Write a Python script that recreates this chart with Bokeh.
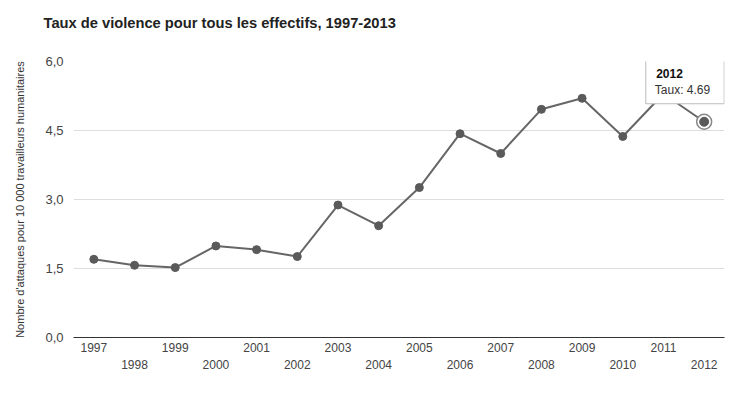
from bokeh.plotting import figure
from bokeh.models import (Range1d, FixedTicker, LinearAxis, CustomJSTickFormatter, Label, Grid)
from bokeh.embed import file_html
from bokeh.resources import INLINE

years = [1997, 1998, 1999, 2000, 2001, 2002, 2003, 2004, 2005, 2006, 2007, 2008, 2009, 2010, 2011, 2012]
taux = [1.70, 1.57, 1.52, 1.99, 1.91, 1.76, 2.88, 2.43, 3.26, 4.43, 4.00, 4.96, 5.20, 4.37, 5.30, 4.69]
y_ticks = [0.0, 1.5, 3.0, 4.5, 6.0]
title_text = "Taux de violence pour tous les effectifs, 1997-2013"
y_label = "Nombre d'attaques pour 10 000 travailleurs humanitaires"
series_name = "Taux"

FONT = "Liberation Sans"

p = figure(width=754, height=394, output_backend="svg", toolbar_location=None,
           x_range=Range1d(years[0] - 0.5, years[-1] + 0.5),
           y_range=Range1d(y_ticks[0], y_ticks[-1]),
           x_axis_type=None, y_axis_type=None,
           min_border_left=73, min_border_right=30, min_border_top=61, min_border_bottom=57)
p.outline_line_color = None
p.background_fill_color = "white"
p.border_fill_color = "white"

# title (two trailing empty lines lift it away from the plot frame)
p.title.text = title_text + "\n\n"
p.title.text_font = FONT
p.title.text_font_size = "14.7px"
p.title.text_font_style = "bold"
p.title.text_color = "#222222"
p.title.align = "left"
p.title.vertical_align = "bottom"
p.title.offset = -30
p.title.standoff = -2

# Y axis
yax = LinearAxis(ticker=FixedTicker(ticks=y_ticks),
                 formatter=CustomJSTickFormatter(code="return tick.toFixed(1).replace('.', ',');"))
yax.axis_line_color = None
yax.major_tick_line_color = None
yax.minor_tick_line_color = None
yax.major_tick_out = 0
yax.major_tick_in = 0
yax.major_label_text_font = FONT
yax.major_label_text_font_size = "13px"
yax.major_label_text_color = "#444444"
yax.major_label_standoff = 10
yax.axis_label = y_label
yax.axis_label_text_font = FONT
yax.axis_label_text_font_size = "11px"
yax.axis_label_text_font_style = "normal"
yax.axis_label_text_color = "#333333"
yax.axis_label_standoff = 16
p.add_layout(yax, "left")

# X axes (staggered labels)
xax1 = LinearAxis(ticker=FixedTicker(ticks=years[0::2]))
xax1.axis_line_color = "#333333"
xax1.axis_line_width = 1
xax1.major_tick_line_color = None
xax1.minor_tick_line_color = None
xax1.major_tick_out = 0
xax1.major_tick_in = 0
xax1.major_label_standoff = 5
xax1.major_label_text_font = FONT
xax1.major_label_text_font_size = "12px"
xax1.major_label_text_color = "#444444"
p.add_layout(xax1, "below")

xax2 = LinearAxis(ticker=FixedTicker(ticks=years[1::2]))
xax2.axis_line_color = None
xax2.major_tick_line_color = None
xax2.minor_tick_line_color = None
xax2.major_tick_out = 0
xax2.major_tick_in = 0
xax2.major_label_standoff = 5
xax2.major_label_text_font = FONT
xax2.major_label_text_font_size = "12px"
xax2.major_label_text_color = "#444444"
p.add_layout(xax2, "below")

# grid
g = Grid(dimension=1, ticker=FixedTicker(ticks=y_ticks[1:]))
g.grid_line_color = "#dddddd"
g.grid_line_width = 1
p.add_layout(g)

p.line(years, taux, line_color="#666666", line_width=2)
p.scatter(years, taux, size=8, fill_color="#5a5a5a", line_color="#5a5a5a")

# highlighted last point
p.scatter([years[-1]], [taux[-1]], size=15, fill_color="white", line_color="#888888", line_width=1.5)
p.scatter([years[-1]], [taux[-1]], size=9, fill_color="#5a5a5a", line_color="#5a5a5a")

# tooltip box
tip = Label(x=years[-1], y=taux[-1], x_offset=20, y_offset=18,
            text="%s: %.2f" % (series_name, taux[-1]),
            anchor="bottom_right",
            text_font=FONT, text_font_size="12px", text_color="#333333",
            background_fill_color="white", border_line_color="#bbbbbb", border_line_width=1,
            padding=dict(left=9, right=14, top=27, bottom=7))
p.add_layout(tip)
tip_title = Label(x=years[-1], y=taux[-1], x_offset=-48, y_offset=53,
                  text=str(years[-1]), text_align="left", text_baseline="top",
                  text_font=FONT, text_font_size="12px", text_font_style="bold",
                  text_color="#111111")
p.add_layout(tip_title)

open("out.html", "w").write(file_html(p, INLINE))
